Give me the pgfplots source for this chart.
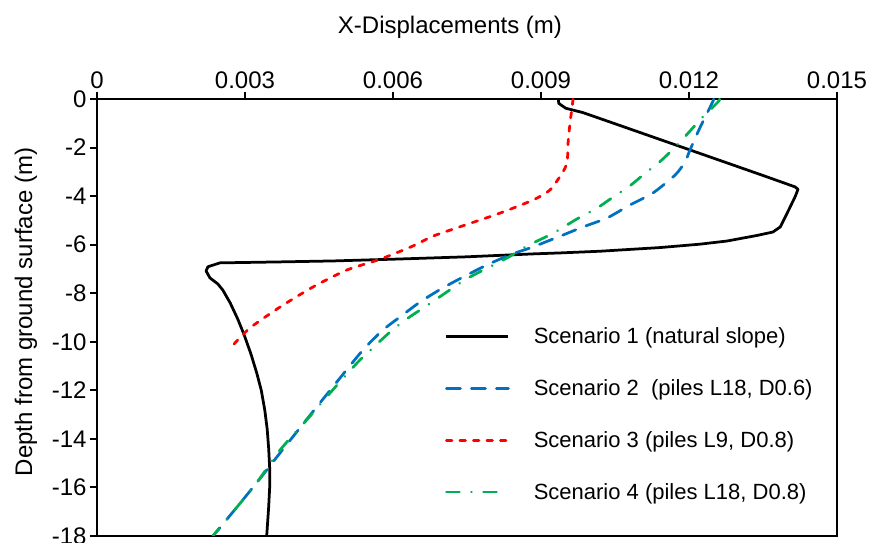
\documentclass[border=0pt]{standalone}
\usepackage{fontspec}
\setmainfont{Liberation Sans}
\usepackage{pgfplots}
\pgfplotsset{compat=1.18}
\definecolor{s2blue}{HTML}{0070C0}
\definecolor{s3red}{HTML}{FF0000}
\definecolor{s4green}{HTML}{00B050}
\newcommand{\lblfont}{\fontsize{24bp}{28bp}\selectfont}
\newcommand{\legfont}{\fontsize{22bp}{26bp}\selectfont}
\begin{document}
\begin{tikzpicture}
\useasboundingbox (0,0) rectangle (870bp,543bp);
\begin{axis}[
  at={(97bp,7bp)}, anchor=south west,
  scale only axis, width=740bp, height=437bp,
  xmin=0, xmax=0.015, ymin=-18, ymax=0,
  axis line style={line width=2bp},
  every tick/.style={black, line width=2bp},
  major tick length=7bp,
  tick align=outside,
  scaled x ticks=false,
  xtick={0,0.003,0.006,0.009,0.012,0.015},
  xticklabels={0,0.003,0.006,0.009,0.012,0.015},
  ytick={-18,-16,-14,-12,-10,-8,-6,-4,-2,0},
  yticklabels={-18,-16,-14,-12,-10,-8,-6,-4,-2,0},
  xtick pos=right, xticklabel pos=right,
  ytick pos=left,
  tick label style={font=\lblfont},
  xlabel={X-Displacements (m)},
  ylabel={Depth from ground surface (m)},
  xlabel style={font=\lblfont, at={(axis description cs:0.477,1.151)}, anchor=base},
  ylabel style={font=\lblfont, at={(axis description cs:-0.0959,0.5126)}, anchor=center},
  legend style={draw=none, fill=none, at={(axis cs:0.007055,-9.415)}, anchor=north west,
    font=\legfont, inner sep=0pt, outer sep=0pt, row sep=34.5bp, column sep=24bp,
    nodes={inner sep=0pt}},
  legend cell align=left,
  legend image code/.code={\draw[#1] (0bp,0bp) -- (62bp,0bp);},
]
\addplot[black, line width=2.75bp, line join=round] coordinates {
(0.00935,0) (0.00936,-0.18) (0.00950,-0.38) (0.00985,-0.56) (0.0105,-1.02) (0.0115,-1.73)
(0.0125,-2.44) (0.0135,-3.15) (0.01415,-3.62) (0.01421,-3.72) (0.01415,-4.03) (0.01399,-4.7)
(0.01385,-5.27) (0.0137,-5.48) (0.01338,-5.62) (0.01277,-5.85) (0.01222,-5.98) (0.01141,-6.12)
(0.0102,-6.27) (0.00939,-6.34) (0.00884,-6.38) (0.0075,-6.5) (0.00614,-6.59) (0.00480,-6.67)
(0.00371,-6.71) (0.00249,-6.75) (0.00225,-6.91) (0.00221,-7.08) (0.00229,-7.37) (0.00245,-7.62)
(0.00255,-7.87) (0.00270,-8.4) (0.00285,-9.05) (0.00298,-9.7) (0.00312,-10.5) (0.00324,-11.3)
(0.00333,-12.0) (0.00340,-12.8) (0.00345,-13.6) (0.00348,-14.4) (0.00350,-15.2) (0.00350,-16.0)
(0.00348,-16.8) (0.00346,-17.4) (0.00344,-18)
};
\addlegendentry{Scenario 1 (natural slope)}
\addplot[s2blue, line width=2.75bp, line cap=round, dash pattern=on 14bp off 11bp, smooth, tension=0.4] coordinates {
(0.01250,0) (0.01247,-0.16) (0.01222,-1.19) (0.01202,-2.1) (0.01192,-2.59) (0.01172,-3.13)
(0.01127,-3.87) (0.0108,-4.37) (0.01034,-4.9) (0.00985,-5.27) (0.00945,-5.6) (0.00884,-6.09)
(0.00837,-6.42) (0.0079,-6.84) (0.0075,-7.25) (0.00701,-7.78) (0.00655,-8.36) (0.00614,-8.98)
(0.0058,-9.51) (0.00539,-10.34) (0.00478,-11.86) (0.00425,-13.2) (0.00371,-14.58) (0.00324,-15.8)
(0.0028,-16.9) (0.00235,-18)
};
\addlegendentry{Scenario 2~ (piles L18, D0.6)}
\addplot[s3red, line width=2.75bp, line cap=round, dash pattern=on 5.5bp off 8bp, smooth, tension=0.4] coordinates {
(0.00965,0) (0.00962,-0.5) (0.00959,-0.95) (0.00955,-1.77) (0.00953,-2.6) (0.00943,-3.05)
(0.00918,-3.75) (0.00884,-4.16) (0.00817,-4.7) (0.00745,-5.2) (0.00681,-5.65) (0.00641,-6.05)
(0.00574,-6.6) (0.00507,-7.04) (0.00438,-7.74) (0.00371,-8.57) (0.0031,-9.43) (0.00276,-10.13)
};
\addlegendentry{Scenario 3 (piles L9, D0.8)}
\addplot[s4green, line width=2.75bp, line cap=round, dash pattern=on 13bp off 12bp on 0.1bp off 12bp, smooth, tension=0.4] coordinates {
(0.01262,0) (0.01259,-0.12) (0.01228,-0.74) (0.01202,-1.32) (0.01176,-1.89) (0.01145,-2.51)
(0.01107,-3.13) (0.0108,-3.58) (0.01046,-4.04) (0.01014,-4.49) (0.00973,-4.94) (0.00943,-5.31)
(0.00918,-5.6) (0.00872,-6.05) (0.00831,-6.55) (0.00756,-7.33) (0.0073,-7.66) (0.00691,-8.2)
(0.00661,-8.61) (0.00628,-9.06) (0.00594,-9.6) (0.00533,-10.75) (0.00478,-11.98) (0.00426,-13.2)
(0.00371,-14.46) (0.00324,-15.8) (0.00276,-17.0) (0.00235,-18)
};
\addlegendentry{Scenario 4 (piles L18, D0.8)}
\end{axis}
\end{tikzpicture}
\end{document}
